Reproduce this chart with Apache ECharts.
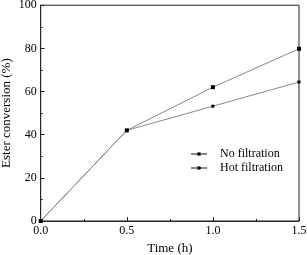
<!DOCTYPE html>
<html><head><meta charset="utf-8">
<script src="https://cdn.jsdelivr.net/npm/echarts@6/dist/echarts.min.js"></script>
<style>html,body{margin:0;padding:0;background:#fff}#c{width:307px;height:255px}</style>
</head><body><div id="c"></div>
<script>
const times = [0, 0.5, 1.0, 1.5];
const noFiltration = [0, 42.0, 62.0, 79.8];
const hotFiltration = [0, 42.0, 53.2, 64.4];
const seriesNames = ['No filtration', 'Hot filtration'];
const xTitle = 'Time (h)';
const yTitle = 'Ester conversion (%)';

const font = 'Liberation Serif, Times New Roman, serif';
const chart = echarts.init(document.getElementById('c'), null, {renderer: 'canvas'});
const pair = (xs, ys) => xs.map((x, i) => [x, ys[i]]);
chart.setOption({
  animation: false,
  grid: {left: 40.7, right: 8, top: 5.2, bottom: 34, outerBoundsMode: 'none', containLabel: false,
         show: true, borderColor: '#222', borderWidth: 1, backgroundColor: 'transparent'},
  legend: {
    orient: 'vertical', left: 190, top: 147, padding: 0, itemGap: 0, itemWidth: 16, itemHeight: 4,
    lineStyle: {color: '#888'},
    textStyle: {fontFamily: font, fontSize: 12, color: '#000', padding: [0, 0, 0, 8], lineHeight: 14},
    data: seriesNames
  },
  xAxis: {
    type: 'value', min: 0, max: 1.5, interval: 0.5,
    name: xTitle, nameLocation: 'middle', nameGap: 21, nameMoveOverlap: false,
    nameTextStyle: {fontFamily: font, fontSize: 13, color: '#000'},
    axisLine: {lineStyle: {color: '#222', width: 1}},
    axisTick: {inside: true, length: 4, lineStyle: {color: '#222'}},
    minorTick: {show: true, splitNumber: 2, length: 2, lineStyle: {color: '#222'}},
    splitLine: {show: false},
    axisLabel: {fontFamily: font, fontSize: 12, color: '#000', margin: 4, formatter: v => v.toFixed(1)}
  },
  yAxis: {
    type: 'value', min: 0, max: 100, interval: 20,
    name: yTitle, nameLocation: 'middle', nameGap: 28, nameMoveOverlap: false,
    nameTextStyle: {fontFamily: font, fontSize: 13, color: '#000'},
    axisLine: {lineStyle: {color: '#222', width: 1}},
    axisTick: {inside: true, length: 4, lineStyle: {color: '#222'}},
    minorTick: {show: true, splitNumber: 2, length: 2, lineStyle: {color: '#222'}},
    splitLine: {show: false},
    axisLabel: {fontFamily: font, fontSize: 12, color: '#000', margin: 4}
  },
  series: [
    {name: seriesNames[0], type: 'line', data: pair(times, noFiltration), symbol: 'rect', symbolSize: 4,
     showAllSymbol: true, lineStyle: {color: '#888', width: 1}, itemStyle: {color: '#000'}},
    {name: seriesNames[1], type: 'line', data: pair(times, hotFiltration), symbol: 'rect', symbolSize: 3,
     showAllSymbol: true, lineStyle: {color: '#888', width: 1}, itemStyle: {color: '#000'}}
  ]
});
</script></body></html>
